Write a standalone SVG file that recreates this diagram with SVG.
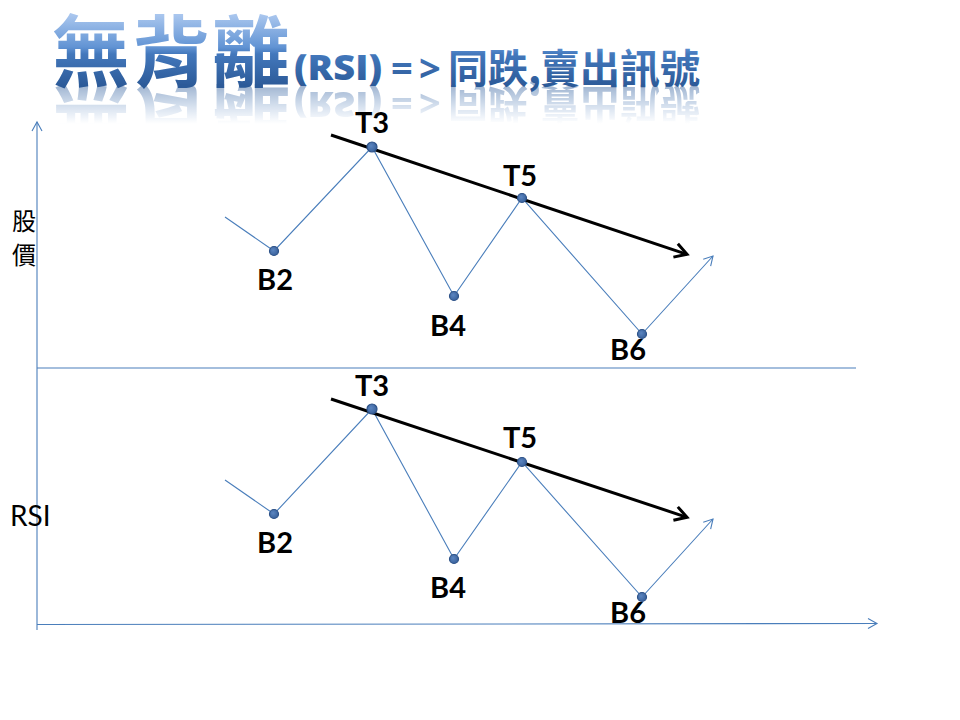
<svg xmlns="http://www.w3.org/2000/svg" width="960" height="720" viewBox="0 0 960 720">
  <defs>
    <linearGradient id="titleGrad" gradientUnits="userSpaceOnUse" x1="0" y1="15" x2="0" y2="86">
      <stop offset="0" stop-color="#a9c6ee"/>
      <stop offset="0.45" stop-color="#6294d4"/>
      <stop offset="0.55" stop-color="#4378bc"/>
      <stop offset="1" stop-color="#2c5a98"/>
    </linearGradient>
    <linearGradient id="reflGrad" gradientUnits="userSpaceOnUse" x1="0" y1="86" x2="0" y2="124">
      <stop offset="0" stop-color="#fff" stop-opacity="0.45"/>
      <stop offset="1" stop-color="#fff" stop-opacity="0"/>
    </linearGradient>
    <mask id="reflMask" maskUnits="userSpaceOnUse" x="0" y="80" width="960" height="60">
      <rect x="0" y="80" width="960" height="60" fill="url(#reflGrad)"/>
    </mask>
    <marker id="arrowBlue" markerUnits="userSpaceOnUse" viewBox="-12 -8 14 16" markerWidth="14" markerHeight="16" refX="0" refY="0" orient="auto">
      <path d="M-9,-5 L0,0 L-9,5" fill="none" stroke="#4a7ebb" stroke-width="1.1"/>
    </marker>
    <marker id="arrowBlack" markerUnits="userSpaceOnUse" viewBox="-16 -10 20 20" markerWidth="20" markerHeight="20" refX="0" refY="0" orient="auto">
      <path d="M-12,-7 L0,0 L-12,7" fill="none" stroke="#000" stroke-width="3" stroke-linejoin="miter"/>
    </marker>
    <radialGradient id="dotGrad" cx="0.4" cy="0.4" r="0.6">
      <stop offset="0" stop-color="#5b85c0"/>
      <stop offset="1" stop-color="#3a629c"/>
    </radialGradient>
    <g id="titleText">
      <text x="52" y="81" class="big">無背離</text>
      <text x="294" y="80" class="mid" textLength="88" lengthAdjust="spacingAndGlyphs">(RSI)</text>
      <text x="391 419" y="82" class="mid2">=&gt;</text>
      <text x="448" y="83" class="cjk">同跌</text>
      <text x="528" y="83" class="cjk">,</text>
      <text x="540" y="83" class="cjk">賣出訊號</text>
    </g>
  </defs>
  <style>
    .big { font-family: "Noto Sans CJK TC", "Noto Sans CJK SC", sans-serif; font-weight: 700; font-size: 78px; letter-spacing: 2px; fill: url(#titleGrad); }
    .mid { font-family: "Open Sans", "Liberation Sans", sans-serif; font-weight: 800; font-size: 36px; fill: url(#titleGrad); }
    .mid2 { font-family: "Open Sans", "Liberation Sans", sans-serif; font-weight: 700; font-size: 38px; fill: url(#titleGrad); }
    .cjk { font-family: "Noto Sans CJK TC", "Noto Sans CJK SC", sans-serif; font-weight: 700; font-size: 40px; fill: url(#titleGrad); }
    .axis { stroke: #4a7ebb; stroke-width: 1.1; fill: none; }
    .curve { stroke: #4a7ebb; stroke-width: 1.1; fill: none; }
    .trend { stroke: #000; stroke-width: 3; fill: none; }
    .dot { fill: url(#dotGrad); stroke: #2d5288; stroke-width: 1.2; }
    .lbl { font-family: Lato, "Liberation Sans", sans-serif; font-weight: 700; font-size: 29px; fill: #000; text-anchor: middle; }
    .ylbl { font-family: "Noto Sans CJK TC", "Noto Sans CJK SC", sans-serif; font-size: 24px; fill: #000; }
    .ylbl2 { font-family: Lato, "Liberation Sans", sans-serif; font-size: 28px; fill: #000; }
  </style>

  <!-- Title -->
  <g id="title">
    <use href="#titleText"/>
    <g mask="url(#reflMask)">
      <use href="#titleText" transform="translate(0,172) scale(1,-1)"/>
    </g>
  </g>

  <!-- Axes -->
  <g id="axes">
    <line class="axis" x1="37" y1="630" x2="37" y2="122" marker-end="url(#arrowBlue)"/>
    <line class="axis" x1="37" y1="368" x2="856" y2="368"/>
    <line class="axis" x1="37" y1="624.5" x2="877" y2="623.5" marker-end="url(#arrowBlue)"/>
  </g>

  <!-- Axis labels -->
  <g id="axis-labels">
    <text class="ylbl" x="12" y="230">股</text>
    <text class="ylbl" x="12" y="264">價</text>
    <text class="ylbl2" x="10" y="526">RSI</text>
  </g>

  <!-- Connectors -->
  <g id="connectors">
    <polyline class="curve" points="225,217 274,251 372,147 454,296 522,198 642,334 713,256" marker-end="url(#arrowBlue)"/>
    <line class="trend" x1="331" y1="135" x2="687" y2="254.3" marker-end="url(#arrowBlack)"/>
    <polyline class="curve" points="225,480 274,514 372,409 454,559 522,462 642,597 713,519" marker-end="url(#arrowBlue)"/>
    <line class="trend" x1="331" y1="399" x2="687" y2="517.3" marker-end="url(#arrowBlack)"/>
  </g>

  <!-- Nodes: price panel -->
  <g id="price-B2"><circle class="dot" cx="274" cy="251" r="4.5"/><text class="lbl" x="275" y="290">B2</text></g>
  <g id="price-T3"><circle class="dot" cx="372" cy="147" r="5"/><text class="lbl" x="372" y="133">T3</text></g>
  <g id="price-B4"><circle class="dot" cx="454" cy="296" r="4.5"/><text class="lbl" x="448" y="336">B4</text></g>
  <g id="price-T5"><circle class="dot" cx="522" cy="198" r="4.5"/><text class="lbl" x="520" y="186">T5</text></g>
  <g id="price-B6"><circle class="dot" cx="642" cy="334" r="4.5"/><text class="lbl" x="628" y="360">B6</text></g>

  <!-- Nodes: RSI panel -->
  <g id="rsi-B2"><circle class="dot" cx="274" cy="514" r="4.5"/><text class="lbl" x="275" y="553">B2</text></g>
  <g id="rsi-T3"><circle class="dot" cx="372" cy="409" r="5"/><text class="lbl" x="372" y="396">T3</text></g>
  <g id="rsi-B4"><circle class="dot" cx="454" cy="559" r="4.5"/><text class="lbl" x="448" y="598">B4</text></g>
  <g id="rsi-T5"><circle class="dot" cx="522" cy="462" r="4.5"/><text class="lbl" x="520" y="448">T5</text></g>
  <g id="rsi-B6"><circle class="dot" cx="642" cy="597" r="4.5"/><text class="lbl" x="628" y="623">B6</text></g>
</svg>
